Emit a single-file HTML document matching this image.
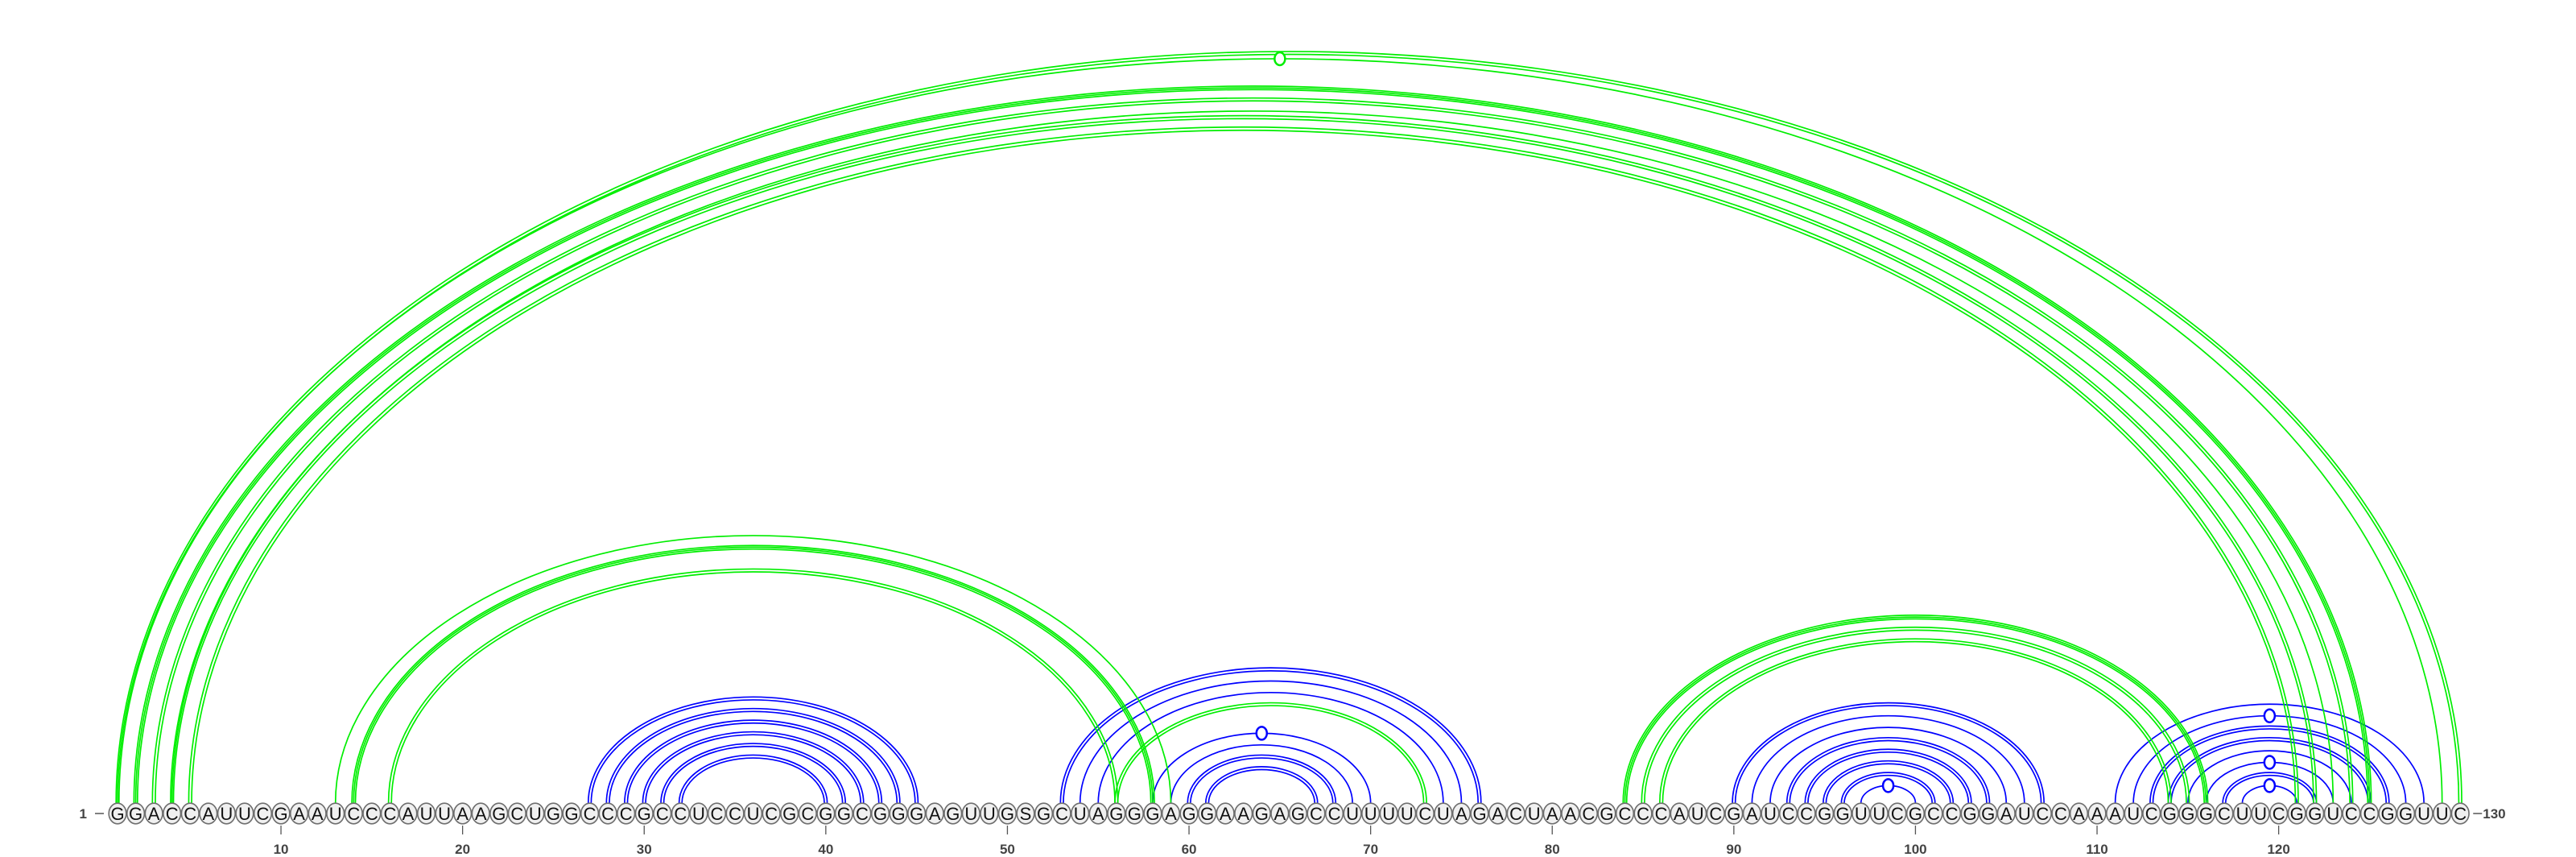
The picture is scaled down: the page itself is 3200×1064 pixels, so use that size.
<!DOCTYPE html>
<html><head><meta charset="utf-8"><style>
html,body{margin:0;padding:0;background:#fff;}
svg{display:block;font-family:"Liberation Sans","DejaVu Sans",sans-serif;}
</style></head><body>
<svg id="chart" width="3200" height="1064" viewBox="0 0 3200 1064" xmlns="http://www.w3.org/2000/svg"></svg>
<script>
const sequence = "GGACCAUUCGAAUCCCAUUAAGCUGGCCCGCCUCCUCGCGGCGGGAGUUGSGCUAGGGAGGAAGAGCCUUUUCUAGACUAACGCCCAUCGAUCCGGUUCGCCGGAUCCAAAUCGGGCUUCGGUCCGGUUC";
const tickLabels = [10,20,30,40,50,60,70,80,90,100,110,120];
const pairStart = [27,28,29,30,31,32, 53,54,55,58,59,60,61, 90,91,92,93,94,95,96,97, 111,112,113,114,115,116,117,118, 13,14,16, 56, 84,85,86, 1,1,2,3,4,4,5];
const pairEnd   = [45,44,43,42,41,40, 76,75,74,70,69,68,67, 107,106,105,104,103,102,101,100, 128,127,126,125,124,123,122,121, 59,58,56, 73, 116,115,114, 130,129,125,124,123,122,121];
const pairColor = ["b","b","b","b","b","b", "b","b","b","b","b","b","b", "b","b","b","b","b","b","b","b", "b","b","b","b","b","b","b","b", "g","g","g","g","g","g","g","g","g","g","g","g","g","g"];
const pairLines = [2,2,2,2,2,2, 2,1,1,1,1,2,2, 2,1,1,2,2,2,2,1, 1,1,2,2,1,1,2,1, 1,3,2, 2, 3,2,2, 2,1,3,2,1,2,2];
const pairMarker= [0,0,0,0,0,0, 0,0,0,1,0,0,0, 0,0,0,0,0,0,0,1, 0,1,0,0,0,1,0,1, 0,0,0, 0, 0,0,0, 0,1,0,0,0,0,0];

const NS="http://www.w3.org/2000/svg";
const svg=document.getElementById('chart');
const x0=146, dx=22.56, cy=1010, baseY=997, ratio=0.64;
const xPos=i=>x0+(i-1)*dx;
const colors={b:"#0000ff",g:"#00ee00"};
function mk(tag,attrs){const e=document.createElementNS(NS,tag);for(const k in attrs)e.setAttribute(k,attrs[k]);return e;}

const arcs=mk('g',{});


svg.appendChild(arcs);
for(let k=0;k<pairStart.length;k++){
  const a=xPos(pairStart[k]), b=xPos(pairEnd[k]);
  const n=pairLines[k], col=colors[pairColor[k]];
  const g=mk('g',{});
  
  
  const sp = n===3 ? 2.2 : 3.6;
  for(let l=0;l<n;l++){
    const off=(l-(n-1)/2)*sp;
    const x1=a+off, x2=b-off;
    const rx=(x2-x1)/2, ry=(b-a)/2*ratio-off;
    g.appendChild(mk('path',{d:`M${x1},${baseY} A${rx},${ry} 0 0 1 ${x2},${baseY}`,fill:'none',stroke:col,'stroke-width':1.7}));
  }
  if(pairMarker[k]){
    const ry=(b-a)/2*ratio;
    const m=mk('ellipse',{cx:(a+b)/2,cy:baseY-ry,rx:6.5,ry:8,fill:'#fff',stroke:col,'stroke-width':2.5});
    
    
    g.appendChild(m);
  }
  arcs.appendChild(g);
}

const nts=mk('g',{});


svg.appendChild(nts);
for(let i=1;i<=sequence.length;i++){
  const x=xPos(i);
  const g=mk('g',{});
  
  
  g.appendChild(mk('ellipse',{cx:x,cy:cy,rx:10.8,ry:12.8,fill:'#f0f0f0',stroke:'#6e6e6e','stroke-width':1.6}));
  const t=mk('text',{x:x,y:cy+8,'text-anchor':'middle','font-size':22,fill:'#111'});
  t.textContent=sequence[i-1];
  g.appendChild(t);
  nts.appendChild(g);
}

const ticks=mk('g',{});


svg.appendChild(ticks);
tickLabels.forEach(v=>{
  const x=xPos(v);
  ticks.appendChild(mk('line',{x1:x,x2:x,y1:1025,y2:1036,stroke:'#555','stroke-width':1.3}));
  const t=mk('text',{x:x,y:1060,'text-anchor':'middle','font-size':17,fill:'#444','font-weight':'bold'});
  
  
  t.textContent=v;
  ticks.appendChild(t);
});

const s=mk('text',{x:108,y:1016,'text-anchor':'end','font-size':17,fill:'#444','font-weight':'bold'});


s.textContent='1';
svg.appendChild(s);
svg.appendChild(mk('line',{x1:118,x2:129,y1:1010,y2:1010,stroke:'#555','stroke-width':1.5}));
const endX=xPos(sequence.length);
svg.appendChild(mk('line',{x1:endX+16,x2:endX+27,y1:1010,y2:1010,stroke:'#555','stroke-width':1.5}));
const e=mk('text',{x:endX+28,y:1016,'font-size':17,fill:'#444','font-weight':'bold'});


e.textContent='130';
svg.appendChild(e);
</script>
</body></html>
